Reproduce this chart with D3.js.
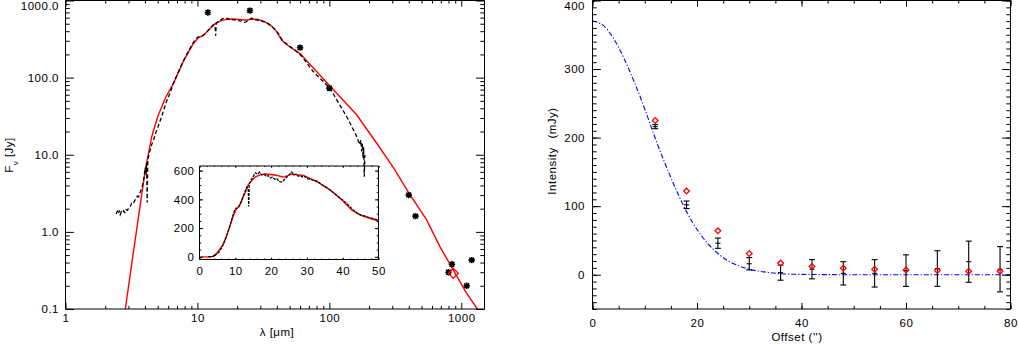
<!DOCTYPE html>
<html>
<head>
<meta charset="utf-8">
<script src="https://cdn.jsdelivr.net/npm/d3@7"></script>
<style>
  body { margin: 0; background: #fff; }
  svg { display: block; font-family: "Liberation Sans", Arial, sans-serif; }
  text { font-size: 11.5px; letter-spacing: 0.5px; fill: #000; }
</style>
</head>
<body>
<div id="chart"></div>
<script>
// ---- SED panel data (wavelength in micron, flux in Jy)
const specLam = [2.42, 2.47, 2.52, 2.56, 2.60, 2.65, 2.70, 2.76, 2.82, 2.88, 2.95, 3.02, 3.10, 3.18, 3.26, 3.34,
  3.42, 3.50, 3.58, 3.66, 3.74, 3.82, 3.90, 3.96, 4.02, 4.08, 4.12, 4.16, 4.20, 4.26, 4.35, 4.50, 4.66, 4.85,
  5.05, 5.25, 5.50, 5.85, 6.20, 6.60, 7.00, 7.40, 7.85, 8.30, 8.80, 9.30, 9.80, 10.2, 10.7, 11.2, 11.7, 12.2,
  12.7, 13.2, 13.6, 13.75, 13.9, 14.4, 15.0, 15.6, 16.2, 16.8, 17.4, 18.0, 18.6, 19.2, 19.8, 20.4, 21.0, 21.6,
  22.2, 22.8, 23.4, 24.0, 24.6, 25.2, 25.8, 26.4, 27.0, 27.6, 28.2, 28.8, 29.4, 30, 31, 32, 33, 34, 35, 36,
  37, 38, 39, 40, 41, 42, 43, 44, 45, 46, 47, 48, 49, 50, 54, 58, 62, 66, 70, 75, 80, 86, 92, 100, 108, 115,
  122, 130, 137, 143, 150, 156, 161, 166, 170, 173, 176, 178, 180, 182, 184, 186]
const specFlux = [1.70, 1.85, 1.72, 1.90, 1.68, 1.82, 1.75, 1.88, 1.78, 1.95, 1.90, 2.05, 2.15, 2.35, 2.30, 2.55,
  2.65, 2.90, 2.85, 3.20, 3.50, 3.90, 4.60, 5.60, 6.80, 5.50, 8.00, 2.40, 7.80, 9.50, 11.0, 13.5, 15.8, 19.5,
  23.5, 28.5, 36, 50, 63, 86, 108, 135, 165, 200, 240, 285, 325, 338, 342, 360, 385, 420,
  455, 485, 470, 350, 505, 535, 560, 585, 575, 590, 570, 575, 560, 565, 550, 555, 540, 545,
  525, 520, 530, 545, 560, 575, 590, 570, 575, 560, 565, 555, 560, 545, 540, 530, 525, 505, 490, 475,
  455, 435, 415, 395, 375, 350, 325, 305, 292, 285, 277, 270, 262, 255, 232, 210, 188, 163, 142, 122, 108, 96, 86, 74, 60, 50,
  42, 35, 30, 26, 22, 19.5, 17.3, 15, 13.5, 15.5, 11, 14, 9, 12.5, 5.2, 10]

const modelLam = [0.3, 2.0, 2.84, 3.2, 3.6, 4.03, 4.5, 5.0, 5.7, 6.6, 7.85, 9.3, 10.2, 11.1, 12.0, 12.8, 13.7,
  14.9, 15.6, 17.0, 18.4, 21.1, 23.5, 25.8, 29.0, 32.8, 36.5, 39.8, 42.6, 44.9, 47.7, 50, 60, 80, 101, 130,
  161, 228, 313, 400, 545, 687, 866, 1093, 1324, 1500]
const modelFlux = [1e-9, 0.0025, 0.1, 0.42, 1.7, 6.4, 17, 31, 54, 85, 165, 275, 330, 352, 405, 450, 505,
  540, 557, 570, 576, 569, 555, 575, 567, 523, 465, 395, 325, 290, 267, 251, 205, 120, 78, 49,
  33, 14.2, 6.4, 3.2, 1.44, 0.65, 0.324, 0.162, 0.1, 0.072]

const photLam = [12, 25, 60, 100, 400, 450, 800, 850, 1100, 1200]
const photFlux = [700, 740, 245, 73, 3.0, 1.6, 0.30, 0.38, 0.20, 0.43]
const diamondLam = [870]
const diamondFlux = [0.29]

const sedXTicks = [1, 10, 100, 1000]
const sedXLabels = ["1", "10", "100", "1000"]
const sedYTicks = [0.1, 1, 10, 100, 1000]
const sedYLabels = ["0.1", "1.0", "10.0", "100.0", "1000.0"]
const insetXTicks = [0, 10, 20, 30, 40, 50]
const insetXLabels = ["0", "10", "20", "30", "40", "50"]
const insetYTicks = [0, 200, 400, 600]
const insetYLabels = ["0", "200", "400", "600"]

// ---- radial profile panel data
const offsets = [12, 18, 24, 30, 36, 42, 48, 54, 60, 66, 72, 78]
const intensity = [216, 102, 46, 16, 3, 8, 2, 2, 6, 9, 19, 8]
const intensityErr = [3, 5.5, 7.5, 9, 11, 14, 17, 20, 23, 26, 30, 33]
const modelIntensity = [225, 122, 64, 31, 17, 12, 9.5, 8, 7, 6, 5, 5]
const beamOffset = [0, 2, 4, 6, 8, 10, 12, 14, 16, 18, 20, 22, 24, 26, 28, 30, 32, 34, 36, 40, 50, 60, 70, 80]
const beamIntensity = [370, 364, 345, 316, 281, 242, 199, 160, 124, 92, 66, 46, 31, 20, 13, 8, 5, 3, 1.5, 0.5, 0, 0, 0, 0]

const profXTicks = [0, 20, 40, 60, 80]
const profXLabels = ["0", "20", "40", "60", "80"]
const profYTicks = [0, 100, 200, 300, 400]
const profYLabels = ["0", "100", "200", "300", "400"]

const width = 1019
const height = 345

const svg = d3.select("#chart")
    .append("svg")
    .attr("width", width)
    .attr("height", height)

const sedBox = {left: 65.5, right: 484.5, top: 0.5, bottom: 309}
const insetBox = {left: 199.5, right: 378.5, top: 166, bottom: 259.5}
const profBox = {left: 592.5, right: 1010.5, top: 0.5, bottom: 309}

function addAxis(parent, axis, transform) {
    const g = parent.append("g")
        .attr("transform", transform)
        .call(axis)
    g.select(".domain").remove()
    return g
}

// ticks on all four sides pointing inward, labels on left and bottom
function drawFrame(parent, box, x, y, t) {
    const w = box.right - box.left
    const h = box.bottom - box.top
    const xLen = 0.02 * h
    const yLen = 0.02 * w
    addAxis(parent, d3.axisBottom(x).tickValues(t.xMinor).tickSize(-xLen / 2).tickFormat(""), `translate(0,${box.bottom})`)
    addAxis(parent, d3.axisTop(x).tickValues(t.xMinor).tickSize(-xLen / 2).tickFormat(""), `translate(0,${box.top})`)
    addAxis(parent, d3.axisTop(x).tickValues(t.xMajor).tickSize(-xLen).tickFormat(""), `translate(0,${box.top})`)
    addAxis(parent, d3.axisBottom(x).tickValues(t.xMajor).tickSize(-xLen)
        .tickPadding(t.xPad).tickFormat((d, i) => t.xLabels[i]), `translate(0,${box.bottom})`)

    addAxis(parent, d3.axisLeft(y).tickValues(t.yMinor).tickSize(-yLen / 2).tickFormat(""), `translate(${box.left},0)`)
    addAxis(parent, d3.axisRight(y).tickValues(t.yMinor).tickSize(-yLen / 2).tickFormat(""), `translate(${box.right},0)`)
    addAxis(parent, d3.axisRight(y).tickValues(t.yMajor).tickSize(-yLen).tickFormat(""), `translate(${box.right},0)`)
    const yAxis = addAxis(parent, d3.axisLeft(y).tickValues(t.yMajor).tickSize(-yLen)
        .tickPadding(t.yPad).tickFormat((d, i) => t.yLabels[i]), `translate(${box.left},0)`)
    // label sitting on the top edge is pushed down so it stays inside the page
    yAxis.selectAll(".tick")
        .filter(d => y(d) < 5)
        .select("text")
        .attr("dy", "0.75em")

    parent.append("path")
        .attr("d", `M${box.left},${box.top}H${box.right}V${box.bottom}H${box.left}Z`)
        .attr("fill", "none")
        .attr("stroke", "#000")
}

function logMinors(lo, hi) {
    const out = []
    for (let d = lo; d < hi; d *= 10) {
        for (let k = 2; k <= 9; k++) out.push(d * k)
    }
    return out
}

// ================= left: SED =================
const xLog = d3.scaleLog().domain([1, 1500]).range([sedBox.left, sedBox.right])
const yLog = d3.scaleLog().domain([0.1, 1000]).range([sedBox.bottom, sedBox.top])

svg.append("clipPath").attr("id", "sedClip")
    .append("rect")
    .attr("x", sedBox.left).attr("y", sedBox.top)
    .attr("width", sedBox.right - sedBox.left)
    .attr("height", sedBox.bottom - sedBox.top)

const sed = svg.append("g")
const sedPlot = sed.append("g").attr("clip-path", "url(#sedClip)")

const modelPts = modelLam.map((d, i) => [d, modelFlux[i]])
const specPts = specLam.map((d, i) => [d, specFlux[i]])

const logLine = d3.line()
    .x(d => xLog(d[0]))
    .y(d => yLog(d[1]))

sedPlot.append("path")
    .attr("d", logLine(modelPts))
    .attr("fill", "none")
    .attr("stroke", "#ff0000")
    .attr("stroke-width", 1.4)

sedPlot.append("path")
    .attr("d", logLine(specPts))
    .attr("fill", "none")
    .attr("stroke", "#000")
    .attr("stroke-width", 1.3)
    .attr("stroke-dasharray", "4,2.5")

const asterisk = "M-3.2,0H3.2M0,-3.2V3.2M-2.4,-2.4L2.4,2.4M-2.4,2.4L2.4,-2.4"
sed.append("g").selectAll("path")
    .data(photLam.map((d, i) => [d, photFlux[i]]))
    .join("path")
    .attr("transform", d => `translate(${xLog(d[0])},${yLog(d[1])})`)
    .attr("d", asterisk)
    .attr("stroke", "#000")
    .attr("stroke-width", 1.6)

sed.append("g").selectAll("path")
    .data(diamondLam.map((d, i) => [d, diamondFlux[i]]))
    .join("path")
    .attr("transform", d => `translate(${xLog(d[0])},${yLog(d[1])}) rotate(45)`)
    .attr("d", d3.symbol(d3.symbolSquare).size(50))
    .attr("fill", "none")
    .attr("stroke", "#ff0000")
    .attr("stroke-width", 1.3)

drawFrame(sed, sedBox, xLog, yLog, {
    xMajor: sedXTicks, xMinor: logMinors(1, 1000).filter(d => d <= 1500), xLabels: sedXLabels, xPad: 5,
    yMajor: sedYTicks, yMinor: logMinors(0.1, 1000), yLabels: sedYLabels, yPad: 6.5,
})

sed.append("text")
    .attr("x", 277)
    .attr("y", 336)
    .attr("text-anchor", "middle")
    .text("λ [μm]")

const fLabel = sed.append("text")
    .attr("transform", "translate(12.5,155) rotate(-90)")
    .attr("text-anchor", "middle")
fLabel.append("tspan").text("F")
fLabel.append("tspan").attr("baseline-shift", "sub").style("font-size", "8px").text("ν")
fLabel.append("tspan").text(" [Jy]")

// ---- inset (linear)
const xIn = d3.scaleLinear().domain([0, 50]).range([insetBox.left, insetBox.right])
const yIn = d3.scaleLinear().domain([-22, 632]).range([260, 166])

svg.append("clipPath").attr("id", "insetClip")
    .append("rect")
    .attr("x", insetBox.left).attr("y", insetBox.top)
    .attr("width", insetBox.right - insetBox.left)
    .attr("height", insetBox.bottom - insetBox.top)

const ins = svg.append("g")
const insPlot = ins.append("g").attr("clip-path", "url(#insetClip)")

const linLine = d3.line()
    .x(d => xIn(d[0]))
    .y(d => yIn(d[1]))

insPlot.append("path")
    .attr("d", linLine(modelPts.filter(d => d[0] <= 60)))
    .attr("fill", "none")
    .attr("stroke", "#ff0000")
    .attr("stroke-width", 1.4)

insPlot.append("path")
    .attr("d", linLine(specPts.filter(d => d[0] <= 60)))
    .attr("fill", "none")
    .attr("stroke", "#000")
    .attr("stroke-width", 1.2)
    .attr("stroke-dasharray", "3,1")

drawFrame(ins, insetBox, xIn, yIn, {
    xMajor: insetXTicks, xMinor: d3.range(0, 51, 2), xLabels: insetXLabels, xPad: 7,
    yMajor: insetYTicks, yMinor: d3.range(0, 601, 50), yLabels: insetYLabels, yPad: 5,
})

// ================= right: radial profile =================
const xP = d3.scaleLinear().domain([0, 80]).range([profBox.left, profBox.right])
const yP = d3.scaleLinear().domain([-50, 400]).range([profBox.bottom, profBox.top])

const prof = svg.append("g")

prof.append("path")
    .attr("d", d3.line()
        .x((d, i) => xP(beamOffset[i]))
        .y(d => yP(d))
        .curve(d3.curveMonotoneX)(beamIntensity))
    .attr("fill", "none")
    .attr("stroke", "#0000ff")
    .attr("stroke-width", 1.1)
    .attr("stroke-dasharray", "5,2,1.2,2")

const bars = prof.append("g")
    .selectAll("g")
    .data(offsets.map((d, i) => ({x: d, y: intensity[i], e: intensityErr[i]})))
    .join("g")
    .attr("stroke", "#000")
    .attr("stroke-width", 1.1)

bars.append("line")
    .attr("x1", d => xP(d.x)).attr("x2", d => xP(d.x))
    .attr("y1", d => yP(d.y - d.e)).attr("y2", d => yP(d.y + d.e))
bars.append("line")
    .attr("x1", d => xP(d.x) - 3).attr("x2", d => xP(d.x) + 3)
    .attr("y1", d => yP(d.y - d.e)).attr("y2", d => yP(d.y - d.e))
bars.append("line")
    .attr("x1", d => xP(d.x) - 3).attr("x2", d => xP(d.x) + 3)
    .attr("y1", d => yP(d.y + d.e)).attr("y2", d => yP(d.y + d.e))
bars.append("line")
    .attr("x1", d => xP(d.x) - 2.5).attr("x2", d => xP(d.x) + 2.5)
    .attr("y1", d => yP(d.y)).attr("y2", d => yP(d.y))

prof.append("g").selectAll("path")
    .data(offsets.map((d, i) => [d, modelIntensity[i]]))
    .join("path")
    .attr("transform", d => `translate(${xP(d[0])},${yP(d[1])}) rotate(45)`)
    .attr("d", d3.symbol(d3.symbolSquare).size(16))
    .attr("fill", "none")
    .attr("stroke", "#ff0000")
    .attr("stroke-width", 1.3)

drawFrame(prof, profBox, xP, yP, {
    xMajor: profXTicks, xMinor: d3.range(0, 81, 5), xLabels: profXLabels, xPad: 10,
    yMajor: profYTicks, yMinor: d3.range(-50, 401, 10), yLabels: profYLabels, yPad: 7.5,
})

prof.append("text")
    .attr("x", 797)
    .attr("y", 341)
    .attr("text-anchor", "middle")
    .text("Offset ('')")

prof.append("text")
    .attr("transform", "translate(556,151) rotate(-90)")
    .attr("text-anchor", "middle")
    .style("word-spacing", "5px")
    .text("Intensity (mJy)")
</script>
</body>
</html>
